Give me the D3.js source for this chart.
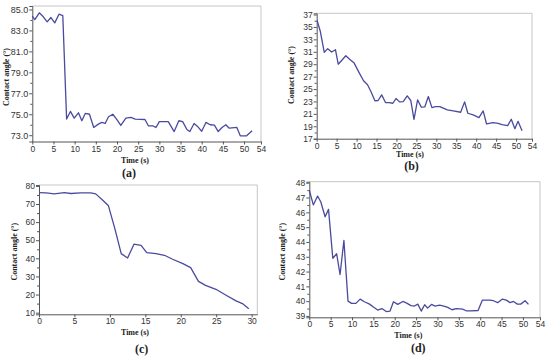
<!DOCTYPE html>
<html>
<head>
<meta charset="utf-8">
<script src="https://cdn.jsdelivr.net/npm/d3@7"></script>
<style>
  body { margin: 0; background: #fff; }
  svg { display: block; }
  .tick text { font-family: "Liberation Sans", Arial, sans-serif; fill: #333; }
  .ttl { font-family: "Liberation Serif", "Times New Roman", serif; font-weight: bold; fill: #222; }
</style>
</head>
<body>
<div id="chart"></div>
<script>
// (a)
const aTime = [0, 0.6, 1.65, 2.6, 3.5, 4.4, 5.3, 6.3, 7.2, 8.1, 9.0, 9.9, 10.9, 11.7, 12.5, 13.5, 14.5, 15.6, 16.4, 17.2, 18.0, 19.0, 19.9, 20.9, 22.1, 23.3, 24.3, 26.6, 27.4, 28.4, 29.2, 30.0, 32.1, 33.5, 34.6, 35.5, 36.5, 37.2, 38.2, 39.1, 40.0, 41.0, 42.0, 43.0, 43.9, 44.8, 45.7, 46.5, 48.3, 49.1, 50.6, 51.9]
const aAngle = [84.36, 84.04, 84.68, 84.3, 83.82, 84.23, 83.72, 84.55, 84.42, 74.54, 75.27, 74.63, 75.14, 74.38, 75.08, 75.0, 73.74, 74.06, 74.22, 74.12, 74.76, 75.0, 74.54, 73.93, 74.63, 74.7, 74.54, 74.5, 73.9, 73.9, 73.74, 74.3, 74.3, 73.35, 74.38, 74.3, 73.54, 73.35, 74.12, 73.8, 73.38, 74.22, 74.0, 73.96, 73.35, 73.74, 74.0, 73.67, 73.74, 72.94, 72.94, 73.42]
const aYTicks = [73, 75, 77, 79, 81, 83, 85]
const aYMinor = [74, 76, 78, 80, 82, 84]

// (b)
const bTime = [0.08, 0.9, 1.9, 2.75, 3.75, 4.7, 5.4, 6.25, 7.3, 8.4, 9.4, 10.7, 11.75, 12.75, 13.6, 14.6, 15.4, 16.3, 17.25, 18.2, 19.1, 19.9, 20.8, 21.7, 22.7, 23.6, 24.4, 25.3, 26.25, 27.1, 28.0, 28.9, 29.8, 30.9, 32.75, 34.25, 36.1, 37.1, 37.9, 39.25, 40.7, 41.75, 42.6, 44.25, 45.5, 46.5, 47.9, 48.8, 49.7, 50.5, 51.5]
const bAngle = [36.08, 34.3, 30.9, 31.5, 30.96, 31.34, 29.0, 29.6, 30.37, 29.72, 29.18, 27.57, 26.33, 25.68, 24.6, 23.1, 23.15, 24.06, 22.82, 22.82, 22.71, 23.47, 22.93, 22.98, 23.9, 23.15, 20.13, 23.25, 22.07, 22.12, 23.79, 22.0, 22.17, 22.17, 21.64, 21.47, 21.26, 22.93, 21.1, 20.83, 20.4, 21.47, 19.37, 19.59, 19.48, 19.26, 19.1, 20.13, 18.62, 19.8, 18.29]
const bYTicks = [17, 19, 21, 23, 25, 27, 29, 31, 33, 35, 37]
const bYMinor = [18, 20, 22, 24, 26, 28, 30, 32, 34, 36]

// (c)
const cTime = [0, 1.0, 2.16, 3.57, 4.5, 5.9, 7.3, 8.0, 9.0, 9.8, 10.7, 11.6, 12.5, 13.4, 14.4, 15.2, 16.5, 17.7, 18.85, 20.3, 21.4, 22.5, 23.5, 24.96, 26.4, 27.8, 28.7, 29.6]
const cAngle = [76.3, 76.1, 75.6, 76.3, 75.8, 76.1, 76.1, 75.6, 72.1, 69.0, 56.4, 42.6, 40.2, 47.8, 47.2, 43.2, 42.6, 41.7, 39.5, 37.1, 34.9, 27.3, 25.1, 22.9, 19.6, 16.5, 15.0, 12.2]
const cYTicks = [10, 20, 30, 40, 50, 60, 70, 80]
const cYMinor = [15, 25, 35, 45, 55, 65, 75]

// (d)
const dTime = [0, 0.94, 1.95, 2.7, 3.7, 4.5, 5.5, 6.4, 7.2, 8.1, 9.06, 9.9, 10.9, 11.9, 12.9, 14.1, 15.0, 16.0, 17.0, 18.0, 18.9, 19.7, 20.7, 21.9, 22.8, 23.8, 24.6, 25.4, 26.2, 27.0, 27.7, 28.6, 29.45, 30.5, 31.5, 32.4, 33.4, 34.4, 35.9, 36.7, 37.7, 39.5, 40.5, 42.2, 43.1, 44.1, 45.2, 46.1, 47.0, 47.8, 48.7, 49.5, 50.5, 51.3]
const dAngle = [47.5, 46.5, 47.1, 46.7, 45.7, 46.2, 42.9, 43.2, 41.8, 44.1, 40.0, 39.85, 39.85, 40.14, 39.96, 39.8, 39.6, 39.4, 39.5, 39.3, 39.33, 39.96, 39.78, 39.98, 39.87, 39.7, 39.67, 39.8, 39.33, 39.76, 39.53, 39.78, 39.67, 39.73, 39.67, 39.58, 39.42, 39.5, 39.46, 39.35, 39.35, 39.37, 40.07, 40.07, 40.03, 39.9, 40.14, 40.07, 39.9, 39.98, 39.8, 39.8, 40.03, 39.78]
const dYTicks = [39, 40, 41, 42, 43, 44, 45, 46, 47, 48]
const dYMinor = [39.5, 40.5, 41.5, 42.5, 43.5, 44.5, 45.5, 46.5, 47.5]

const xTicks54 = [0, 5, 10, 15, 20, 25, 30, 35, 40, 45, 50, 54]
const xTicks30 = [0, 5, 10, 15, 20, 25, 30]

const svg = d3.select('#chart').append('svg')
  .attr('width', 550)
  .attr('height', 359)

function renderPanel({ time, angle, xDomain, yDomain, xTicks, yTicks, yMinor, yFormat, yFont = 8.5,
  left, right, top, bottom, xTitle, yTitle, label }) {
  const x = d3.scaleLinear().domain(xDomain).range([left, right])
  const y = d3.scaleLinear().domain(yDomain).range([bottom, top])
  const g = svg.append('g')

  // light frame on top and right
  g.append('path')
    .attr('d', `M${left},${top}H${right}V${bottom}`)
    .attr('fill', 'none')
    .attr('stroke', '#c6c6c6')
    .attr('stroke-width', 1)

  const yMinorAxis = g.append('g')
    .attr('transform', `translate(${left},0)`)
    .call(d3.axisLeft(y).tickValues(yMinor).tickSize(2).tickFormat(''))
  yMinorAxis.select('.domain').remove()

  const yAxis = g.append('g')
    .attr('transform', `translate(${left},0)`)
    .call(d3.axisLeft(y).tickValues(yTicks).tickSize(3).tickPadding(1).tickFormat(d3.format(yFormat)))
  yAxis.selectAll('text').style('font-size', yFont + 'px')

  const xAxis = g.append('g')
    .attr('transform', `translate(0,${bottom})`)
    .call(d3.axisBottom(x).tickValues(xTicks).tickSize(3).tickPadding(1).tickSizeOuter(0))
  xAxis.selectAll('text').style('font-size', '8.5px')

  g.selectAll('.domain, .tick line').attr('stroke', '#555')

  const line = d3.line()
    .x((d, i) => x(time[i]))
    .y(d => y(d))

  g.append('path')
    .attr('d', line(angle))
    .attr('fill', 'none')
    .attr('stroke', '#4a4a9e')
    .attr('stroke-width', 1.3)
    .attr('stroke-linejoin', 'round')

  g.append('text')
    .attr('class', 'ttl')
    .attr('x', xTitle[0])
    .attr('y', xTitle[1])
    .attr('text-anchor', 'middle')
    .style('font-size', '8px')
    .text('Time (s)')

  g.append('text')
    .attr('class', 'ttl')
    .attr('transform', `translate(${yTitle[0]},${yTitle[1]}) rotate(-90)`)
    .attr('text-anchor', 'middle')
    .attr('dy', '0.35em')
    .style('font-size', '8px')
    .text('Contact angle (°)')

  g.append('text')
    .attr('class', 'ttl')
    .attr('x', label.pos[0])
    .attr('y', label.pos[1])
    .attr('text-anchor', 'middle')
    .style('font-size', '12px')
    .text(label.text)
}

renderPanel({
  time: aTime, angle: aAngle, xDomain: [0, 54], yDomain: [72.4, 85.33],
  xTicks: xTicks54, yTicks: aYTicks, yMinor: aYMinor, yFormat: '.1f', yFont: 9,
  left: 32.3, right: 261, top: 6, bottom: 141.5,
  xTitle: [135, 163], yTitle: [6.5, 77], label: { text: '(a)', pos: [129, 177] }
})

renderPanel({
  time: bTime, angle: bAngle, xDomain: [0, 54], yDomain: [17, 37.2],
  xTicks: xTicks54, yTicks: bYTicks, yMinor: bYMinor, yFormat: 'd',
  left: 316.7, right: 532, top: 13.3, bottom: 138.7,
  xTitle: [410, 157], yTitle: [291, 75], label: { text: '(b)', pos: [411.5, 170] }
})

renderPanel({
  time: cTime, angle: cAngle, xDomain: [0, 30.8], yDomain: [9.1, 80.5],
  xTicks: xTicks30, yTicks: cYTicks, yMinor: cYMinor, yFormat: 'd',
  left: 39, right: 257.3, top: 185, bottom: 314.3,
  xTitle: [135, 334.5], yTitle: [14, 251.7], label: { text: '(c)', pos: [141.7, 353] }
})

renderPanel({
  time: dTime, angle: dAngle, xDomain: [0, 54], yDomain: [38.91, 48.07],
  xTicks: xTicks54, yTicks: dYTicks, yMinor: dYMinor, yFormat: 'd',
  left: 309.3, right: 540, top: 181.7, bottom: 317.3,
  xTitle: [408.3, 338], yTitle: [282.3, 251.7], label: { text: '(d)', pos: [418.3, 352] }
})
</script>
</body>
</html>
